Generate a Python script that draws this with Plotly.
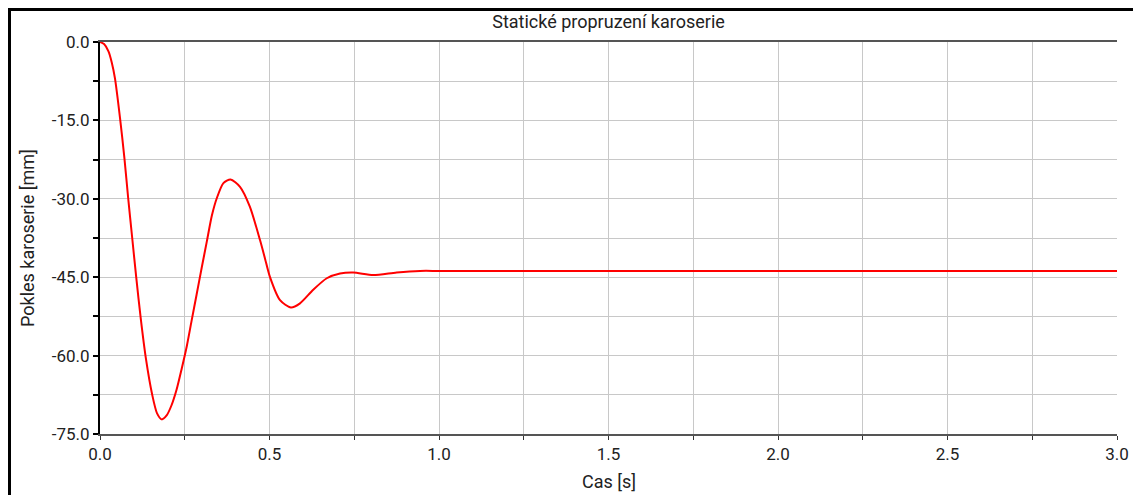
import plotly.graph_objects as go

# time [s]
time_s = [0.0, 0.012, 0.025, 0.035, 0.044, 0.059, 0.072, 0.083, 0.095, 0.107,
          0.12, 0.135, 0.154, 0.168, 0.182, 0.196, 0.211, 0.226, 0.241, 0.256,
          0.27, 0.285, 0.30, 0.315, 0.33, 0.345, 0.364, 0.385, 0.413, 0.442, 0.472,
          0.487, 0.501, 0.531, 0.563, 0.59, 0.629, 0.669, 0.708, 0.747, 0.806,
          0.875, 0.944, 1.0, 1.2, 1.5, 2.0, 2.5, 3.0]
# body drop [mm]
drop_mm = [0.0, -0.4, -1.8, -4.0, -6.9, -14.5, -22.2, -29.8, -37.5, -45.1,
           -52.8, -60.4, -67.5, -71.0, -72.2, -71.5, -69.5, -66.5, -62.5, -58.2,
           -53.4, -48.3, -43.2, -38.2, -33.2, -29.8, -27.0, -26.3, -27.7, -31.5, -37.9,
           -41.5, -44.9, -49.4, -50.8, -50.0, -47.4, -45.2, -44.3, -44.1, -44.6,
           -44.1, -43.8, -43.8, -43.8, -43.8, -43.8, -43.8, -43.8]

x_tick_vals = [0.0, 0.5, 1.0, 1.5, 2.0, 2.5, 3.0]
x_tick_labels = ["0.0", "0.5", "1.0", "1.5", "2.0", "2.5", "3.0"]
y_tick_vals = [0.0, -15.0, -30.0, -45.0, -60.0, -75.0]
y_tick_labels = ["0.0", "-15.0", "-30.0", "-45.0", "-60.0", "-75.0"]

title_text = "Statické propruzení karoserie"
x_title = "Cas [s]"
y_title = "Pokles karoserie [mm]"

# page is offset by the 8px body margin
W, H = 1133, 487
L, R, T, B = 92, 24, 34, 61
pw, ph = W - L - R, H - T - B

fig = go.Figure()
fig.add_trace(go.Scatter(x=time_s, y=drop_mm, mode="lines",
                         line=dict(color="#ff0000", width=2, shape="spline", smoothing=0.7),
                         showlegend=False, hoverinfo="skip"))

font = "Roboto, Arial, sans-serif"
grid = "#c8c8c8"

fig.update_layout(
    width=W, height=H,
    margin=dict(l=L, r=R, t=T, b=B, pad=0),
    paper_bgcolor="white", plot_bgcolor="white",
    font=dict(family=font, size=17, color="#222222"),
    title=dict(text=title_text, x=(L + pw / 2) / W, xanchor="center",
               y=1 - 14 / H, yanchor="middle", yref="container",
               font=dict(family=font, size=18, color="#222222")),
    xaxis=dict(range=[0, 3], tickvals=x_tick_vals, ticktext=x_tick_labels,
               showgrid=True, gridcolor=grid, gridwidth=1,
               ticks="outside", ticklen=4, tickwidth=1, tickcolor="#333333",
               showline=True, linecolor="#555555", linewidth=2, mirror=True,
               zeroline=False,
               minor=dict(dtick=0.25, tick0=0, showgrid=True, gridcolor=grid, gridwidth=1,
                          ticks="outside", ticklen=4, tickcolor="#333333"),
               tickfont=dict(size=17)),
    yaxis=dict(range=[-75, 0], tickvals=y_tick_vals, ticktext=y_tick_labels,
               showgrid=True, gridcolor=grid, gridwidth=1,
               ticks="outside", ticklen=5, tickwidth=2, tickcolor="#000000",
               showline=True, linecolor="#000000", linewidth=2,
               zeroline=False,
               minor=dict(dtick=7.5, tick0=0, showgrid=True, gridcolor=grid, gridwidth=1,
                          ticks="outside", ticklen=5, tickwidth=2, tickcolor="#000000"),
               tickfont=dict(size=17)),
)

fig.add_annotation(text=x_title, xref="paper", yref="paper", x=0.5,
                   y=-(474 - (H - B)) / ph, xanchor="center", yanchor="middle",
                   showarrow=False, font=dict(size=18, color="#222222"))
fig.add_annotation(text=y_title, xref="paper", yref="paper", x=(19 - L) / pw,
                   y=0.5, xanchor="center", yanchor="middle", textangle=-90,
                   showarrow=False, font=dict(size=18, color="#222222"))

fig.add_shape(type="rect", xref="paper", yref="paper",
              x0=(1.5 - L) / pw, x1=1.3, y0=-0.5, y1=(H - B - 1.5) / ph,
              line=dict(color="#000000", width=3), layer="above")

fig.write_html("out.html")
